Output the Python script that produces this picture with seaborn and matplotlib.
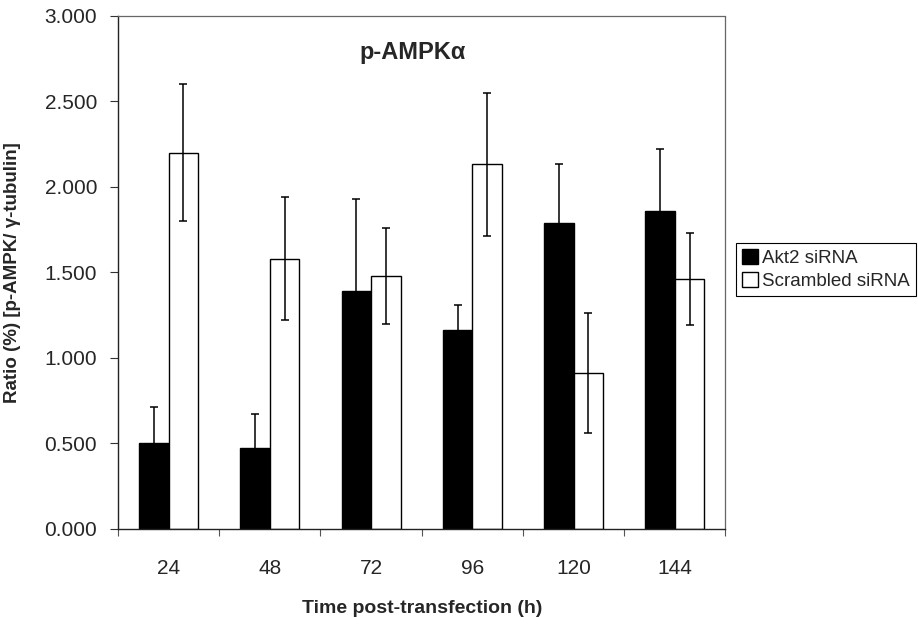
import numpy as np
import pandas as pd
import matplotlib
matplotlib.use("Agg")
import matplotlib.pyplot as plt
from matplotlib.ticker import FixedLocator, FormatStrFormatter
import seaborn as sns

# Time points (h) after transfection
times = ["24", "48", "72", "96", "120", "144"]
groups = ["Akt2 siRNA", "Scrambled siRNA"]

# Mean p-AMPK / gamma-tubulin ratio and error for each group
akt2_mean = [0.50, 0.47, 1.39, 1.16, 1.79, 1.86]
akt2_err = [0.21, 0.20, 0.54, 0.15, 0.34, 0.36]
scr_mean = [2.20, 1.58, 1.48, 2.13, 0.91, 1.46]
scr_err = [0.40, 0.36, 0.28, 0.42, 0.35, 0.27]

df = pd.DataFrame({
    "time": times * 2,
    "ratio": akt2_mean + scr_mean,
    "err": akt2_err + scr_err,
    "group": [groups[0]] * len(times) + [groups[1]] * len(times),
})

sns.set_style("white")
plt.rcParams["font.family"] = ["Liberation Sans", "DejaVu Sans"]

fig = plt.figure(figsize=(9.18, 6.17), dpi=100)
ax = fig.add_axes([118 / 918, 1 - 528.7 / 617, (725.5 - 118) / 918, (528.7 - 15.7) / 617])

sns.barplot(
    data=df, x="time", y="ratio", hue="group", order=times, hue_order=groups,
    palette={groups[0]: "black", groups[1]: "white"},
    edgecolor="black", linewidth=1.0, width=0.585, errorbar=None, ax=ax,
)

# Error bars placed on the drawn bars
for container, g in zip(ax.containers, groups):
    sub = df[df["group"] == g].set_index("time").loc[times]
    xs = [b.get_x() + b.get_width() / 2 for b in container]
    ys = [b.get_height() for b in container]
    ax.errorbar(xs, ys, yerr=sub["err"].values, fmt="none", ecolor="black",
                elinewidth=1.1, capsize=3, capthick=1.1, zorder=5)

ax.set_ylim(0, 3)
ax.set_xlim(-0.5, len(times) - 0.5)
ax.yaxis.set_major_locator(FixedLocator(np.arange(0, 3.01, 0.5)))
ax.yaxis.set_major_formatter(FormatStrFormatter("%.3f"))
ax.tick_params(axis="y", which="major", direction="out", length=6, width=0.8,
               pad=9, labelsize=15, left=True, color="#333333")
ax.tick_params(axis="x", which="major", length=0, pad=22, labelsize=15)
ax.xaxis.set_minor_locator(FixedLocator(np.arange(-0.5, len(times), 1.0)))
ax.tick_params(axis="x", which="minor", direction="out", length=5, width=0.8,
               bottom=True, color="#555555")

for side in ["left", "bottom"]:
    ax.spines[side].set_color("#222222")
    ax.spines[side].set_linewidth(1.0)
for side in ["top", "right"]:
    ax.spines[side].set_visible(True)
    ax.spines[side].set_color("#666666")
    ax.spines[side].set_linewidth(0.9)
ax.spines["right"].set_linestyle((0, (2, 1)))

ax.set_xlabel("Time post-transfection (h)", fontsize=14, fontweight="bold")
ax.set_ylabel("Ratio (%) [p-AMPK/ γ-tubulin]", fontsize=13.5, fontweight="bold")
ax.xaxis.set_label_coords(0.5, -0.139)
ax.yaxis.set_label_coords(-0.16, 0.5)

# Panel title inside the axes
ax.text((413 - 118) / 607.5, 0.929, "p-AMPKα", transform=ax.transAxes,
        fontsize=17, fontweight="bold", ha="center", va="center")

handles, labels = ax.get_legend_handles_labels()
ax.legend(
    handles, labels, loc="upper left", bbox_to_anchor=(736 / 918, 1 - 243 / 617),
    bbox_transform=fig.transFigure, borderaxespad=0, frameon=True, fancybox=False,
    edgecolor="black", framealpha=1, fontsize=13.5, handlelength=0.85,
    handleheight=0.85, handletextpad=0.25, labelspacing=0.3, borderpad=0.3,
)
ax.get_legend().get_frame().set_linewidth(0.8)

fig.savefig("out.png", dpi=100)
